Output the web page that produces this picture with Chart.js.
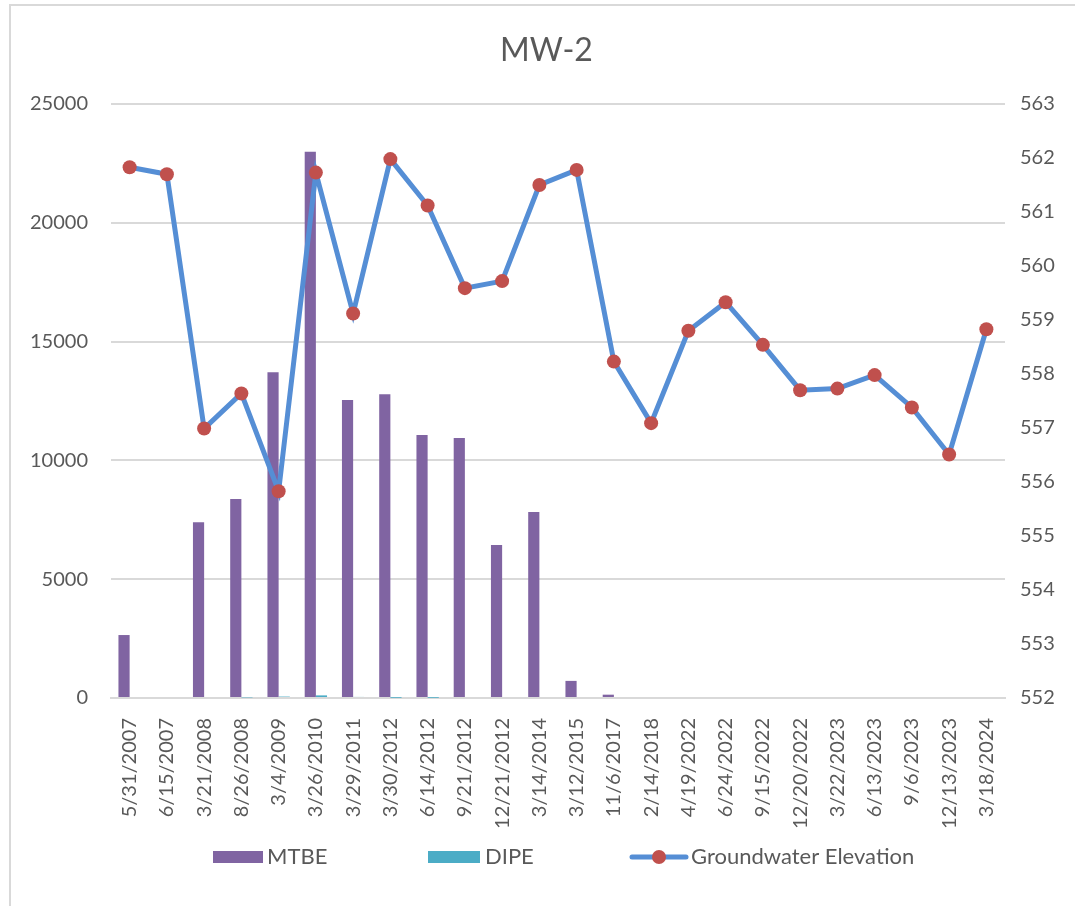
<!DOCTYPE html>
<html>
<head>
<meta charset="utf-8">
<title>MW-2</title>
<style>
  html, body { margin: 0; padding: 0; background: #fff; }
  #wrap { width: 1075px; height: 906px; position: relative; }
</style>
</head>
<body>
<div id="wrap"><canvas id="mwChart" width="1075" height="906"></canvas></div>
<script src="https://cdn.jsdelivr.net/npm/chart.js"></script>
<script>
const sampleDates = [
  '5/31/2007', '6/15/2007', '3/21/2008', '8/26/2008', '3/4/2009', '3/26/2010',
  '3/29/2011', '3/30/2012', '6/14/2012', '9/21/2012', '12/21/2012', '3/14/2014',
  '3/12/2015', '11/6/2017', '2/14/2018', '4/19/2022', '6/24/2022', '9/15/2022',
  '12/20/2022', '3/22/2023', '6/13/2023', '9/6/2023', '12/13/2023', '3/18/2024'
];
const mtbe = [
  2650, 0, 7400, 8380, 13710, 22990, 12540, 12780, 11070, 10940, 6440, 7830,
  720, 140, 0, 0, 0, 0, 0, 0, 0, 0, 0, 0
];
const dipe = [
  0, 0, 0, 25, 60, 110, 45, 10, 10, 0, 0, 0,
  0, 0, 0, 0, 0, 0, 0, 0, 0, 0, 0, 0
];
const gwElevation = [
  561.83, 561.70, 556.99, 557.64, 555.83, 561.73, 559.12, 561.98, 561.12, 559.59, 559.72, 561.50,
  561.78, 558.23, 557.09, 558.80, 559.33, 558.54, 557.70, 557.73, 557.98, 557.38, 556.51, 558.83
];
const leftTicks = [0, 5000, 10000, 15000, 20000, 25000];
const rightTicks = [552, 553, 554, 555, 556, 557, 558, 559, 560, 561, 562, 563];

const PURPLE = '#8064A2';
const TEAL = '#4BACC6';
const BLUE = '#558ED5';
const RED = '#C0504D';
const GRID = '#d9d9d9';
const TEXT = '#595959';
const FONT = "Lato, 'Open Sans', sans-serif";

// chart border (top + left only, like the source)
const frame = {
  id: 'frame',
  beforeDraw(chart) {
    const ctx = chart.ctx;
    ctx.save();
    ctx.strokeStyle = GRID;
    ctx.lineWidth = 2;
    ctx.beginPath();
    ctx.moveTo(10, 906); ctx.lineTo(10, 5); ctx.lineTo(1075, 5);
    ctx.stroke();
    ctx.restore();
  }
};

// legend drawn by hand so the spacing matches the Excel one
const excelLegend = {
  id: 'excelLegend',
  afterDraw(chart) {
    const ctx = chart.ctx;
    const ds = chart.data.datasets;
    const y = 857;
    ctx.save();
    ctx.font = '22px ' + FONT;
    ctx.fillStyle = TEXT;
    ctx.textBaseline = 'middle';

    ctx.fillStyle = ds[0].backgroundColor;
    ctx.fillRect(213, y - 6, 50, 12);
    ctx.fillStyle = TEXT;
    ctx.fillText(ds[0].label, 267, y);

    ctx.fillStyle = ds[1].backgroundColor;
    ctx.fillRect(428, y - 6, 52, 12);
    ctx.fillStyle = TEXT;
    ctx.fillText(ds[1].label, 485, y);

    ctx.strokeStyle = ds[2].borderColor;
    ctx.lineWidth = 5;
    ctx.lineCap = 'round';
    ctx.beginPath(); ctx.moveTo(632, y); ctx.lineTo(686, y); ctx.stroke();
    ctx.fillStyle = ds[2].pointBackgroundColor;
    ctx.beginPath(); ctx.arc(659, y, 7, 0, Math.PI * 2); ctx.fill();
    ctx.fillStyle = TEXT;
    ctx.fillText(ds[2].label, 691, y);
    ctx.restore();
  }
};

Chart.defaults.font.family = FONT;
Chart.defaults.color = TEXT;

new Chart(document.getElementById('mwChart'), {
  type: 'bar',
  data: {
    labels: sampleDates,
    datasets: [
      {
        label: 'MTBE',
        data: mtbe,
        backgroundColor: PURPLE,
        yAxisID: 'y',
        order: 2,
        categoryPercentage: 0.6,
        barPercentage: 1.0
      },
      {
        label: 'DIPE',
        data: dipe,
        backgroundColor: TEAL,
        yAxisID: 'y',
        order: 3,
        categoryPercentage: 0.6,
        barPercentage: 1.0
      },
      {
        type: 'line',
        label: 'Groundwater Elevation',
        data: gwElevation,
        borderColor: BLUE,
        borderWidth: 5,
        pointBackgroundColor: RED,
        pointBorderColor: RED,
        pointRadius: 7,
        pointBorderWidth: 0,
        tension: 0,
        fill: false,
        yAxisID: 'y1',
        order: 1
      }
    ]
  },
  options: {
    responsive: false,
    animation: false,
    layout: { padding: { left: 18, right: 0, top: 0, bottom: 0 } },
    plugins: {
      title: {
        display: true,
        text: 'MW-2',
        color: TEXT,
        font: { size: 32, weight: 'normal', family: FONT },
        padding: { top: 31, bottom: 34.6 }
      },
      legend: { display: false },
      tooltip: { enabled: false }
    },
    scales: {
      x: {
        grid: { display: false },
        border: { display: true, color: GRID, width: 2 },
        ticks: {
          autoSkip: false,
          minRotation: 90,
          maxRotation: 90,
          padding: 12,
          color: TEXT,
          font: { size: 20, family: FONT }
        },
        afterFit(scale) { scale.height = 208; }
      },
      y: {
        position: 'left',
        min: 0,
        max: 25000,
        afterBuildTicks(scale) { scale.ticks = leftTicks.map((v) => ({ value: v })); },
        grid: { color: GRID, lineWidth: 2, drawTicks: false },
        border: { display: false },
        ticks: {
          padding: 23,
          color: TEXT,
          font: { size: 20, family: FONT },
          callback: (v) => String(v)
        },
        afterFit(scale) { scale.width = 93; }
      },
      y1: {
        position: 'right',
        min: 552,
        max: 563,
        afterBuildTicks(scale) { scale.ticks = rightTicks.map((v) => ({ value: v })); },
        grid: { display: false, drawTicks: false },
        border: { display: false },
        ticks: {
          padding: 15,
          color: TEXT,
          font: { size: 20, family: FONT },
          callback: (v) => String(v)
        },
        afterFit(scale) { scale.width = 70; }
      }
    }
  },
  plugins: [frame, excelLegend]
});
</script>
</body>
</html>
